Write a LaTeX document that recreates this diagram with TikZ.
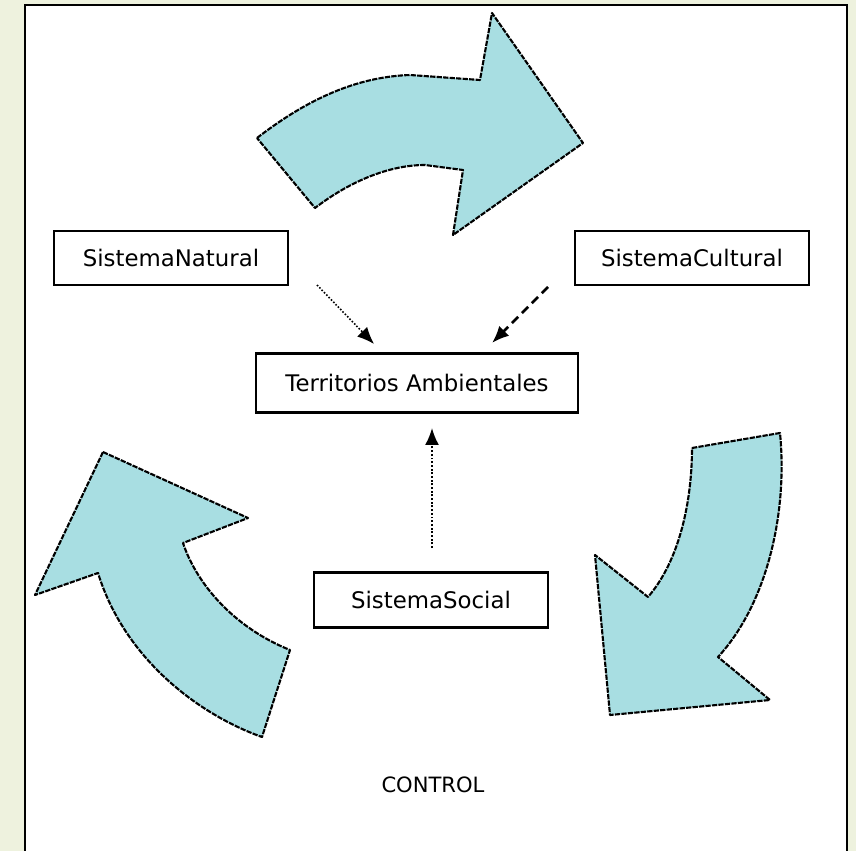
\documentclass[tikz,border=0pt]{standalone}
\usepackage{fontspec}
\newfontfamily\sistfont{DejaVu Sans}
\usetikzlibrary{arrows.meta}

\definecolor{fondo}{RGB}{238,242,222}
\definecolor{flecha}{RGB}{168,222,226}

\tikzset{
	caja/.style= {draw, line width= 1.3pt, inner sep= 0pt, minimum width= 4.68cm, minimum height= 1.07cm, font= \sistfont\fontsize{13}{15}\selectfont},
	curva/.style= {fill= flecha, draw= black, line width= 1.2pt, dash pattern= on 3pt off 0.7pt, line join= round},
	conector/.style= {arrows= -{Latex[length= 3.4mm, width= 2.8mm]}}
}

\begin{document}
\begin{tikzpicture}[x= 0.02cm, y= -0.02cm]
	% fondo y marco
	\useasboundingbox (0,0) rectangle (856,851);
	\fill [fondo] (0,0) rectangle (856,851);
	\fill [white] (25,5) rectangle (847,851);
	\draw [line width= 1.4pt] (25,851) -- (25,5) -- (847,5) -- (847,851);

	% flechas grandes
	\draw [curva] (257,138) .. controls (300,105) and (350,77) .. (410,75) -- (480,80) -- (492,13) -- (583,143) -- (453,235) -- (463,170) -- (425,165) .. controls (385,165) and (345,185) .. (315,208) -- cycle;
	\draw [curva] (692,448) -- (780,433) .. controls (788,515) and (766,605) .. (718,657) -- (770,700) -- (610,715) -- (595,555) -- (648,597) .. controls (680,560) and (692,500) .. cycle;
	\draw [curva] (103,452) -- (248,518) -- (183,543) .. controls (197,585) and (235,628) .. (290,650) -- (262,737) .. controls (200,715) and (125,660) .. (98,573) -- (35,595) -- cycle;

	% sistemas
	\node [caja] (nat) at (171,258) {SistemaNatural};
	\node [caja] (cul) at (692,258) {SistemaCultural};
	\node [caja, minimum width= 6.44cm, minimum height= 1.18cm] (ter) at (417,383) {Territorios Ambientales};
	\node [caja, minimum height= 1.1cm] (soc) at (431,600) {SistemaSocial};
	\node [font= \sistfont\fontsize{12}{14}\selectfont] (ctl) at (433,785) {CONTROL};

	% conectores
	\coordinate (natA) at (317,285);
	\coordinate (terA) at (374,344);
	\coordinate (culA) at (548,287);
	\coordinate (terB) at (492,343);
	\coordinate (socA) at (432,548);
	\coordinate (terC) at (432,428);
	\draw [conector, line width= 0.9pt, densely dotted] (natA) -- (terA);
	\draw [conector, line width= 1.6pt, dash pattern= on 5pt off 3pt] (culA) -- (terB);
	\draw [conector, line width= 1.1pt, densely dotted] (socA) -- (terC);
\end{tikzpicture}
\end{document}
